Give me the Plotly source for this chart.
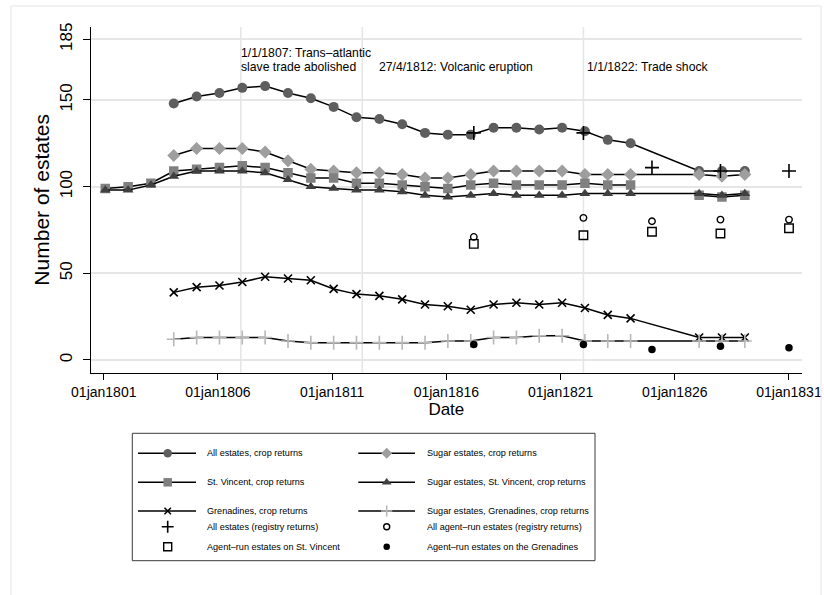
import plotly.graph_objects as go

# ---- data -------------------------------------------------------------
crop_years = list(range(1801, 1830))
crop_dates = [f"{y}-01-25" for y in crop_years]

all_estates = [None, None, None, 148, 152, 154, 157, 158, 154, 151, 146, 140, 139, 136,
               131, 130, 130, 134, 134, 133, 134, 132, 127, 125, None, None, 109, 109, 109]
sugar_estates = [None, None, None, 118, 122, 122, 122, 120, 115, 110, 109, 108, 108, 107,
                 105, 105, 107, 109, 109, 109, 109, 107, 107, 107, None, None, 107, 106, 107]
st_vincent = [99, 100, 102, 109, 110, 111, 112, 111, 108, 105, 105, 102, 102, 101,
              100, 99, 101, 102, 101, 101, 101, 102, 101, 101, None, None, 95, 94, 95]
sugar_st_vincent = [98, 98, 101, 106, 109, 109, 109, 108, 104, 100, 99, 98, 98, 97,
                    95, 94, 95, 96, 95, 95, 95, 96, 96, 96, None, None, 96, 95, 96]
grenadines = [None, None, None, 39, 42, 43, 45, 48, 47, 46, 41, 38, 37, 35,
              32, 31, 29, 32, 33, 32, 33, 30, 26, 24, None, None, 13, 13, 13]
sugar_grenadines = [None, None, None, 12, 13, 13, 13, 13, 11, 10, 10, 10, 10, 10,
                    10, 11, 11, 13, 13, 14, 14, 11, 11, 11, None, None, 11, 11, 11]

registry_dates = ["1817-03-15", "1822-01-01", "1825-01-01", "1828-01-01", "1831-01-01"]
registry_all = [131, 131, 111, 109, 109]
agent_all = [71, 82, 80, 81, 81]
agent_st_vincent = [67, 72, 74, 73, 76]
agent_grenadines = [9, 9, 6, 8, 7]

tick_dates = ["1801-01-01", "1806-01-01", "1811-01-01", "1816-01-01",
              "1821-01-01", "1826-01-01", "1831-01-01"]
tick_labels = ["01jan1801", "01jan1806", "01jan1811", "01jan1816",
               "01jan1821", "01jan1826", "01jan1831"]
y_ticks = [0, 50, 100, 150, 185]

events = [("1807-01-01", ["1/1/1807: Trans\u2013atlantic", "slave trade abolished"]),
          ("1812-04-27", ["27/4/1812: Volcanic eruption"]),
          ("1822-01-01", ["1/1/1822: Trade shock"])]

# ---- page geometry (pixels) -------------------------------------------
W, H = 824, 595
PX_L, PX_R, PX_T, PX_B = 90.7, 802.0, 27.0, 372.7

FONT = "Liberation Sans, Arial, Helvetica, sans-serif"

C_CIRCLE = "#5e5e5e"
C_DIAMOND = "#9e9e9e"
C_SQUARE = "#808080"
C_TRIANGLE = "#404040"
C_PLUS = "#b8b8b8"


def mk(symbol, size, color, edge=0, edge_color=None):
    return dict(symbol=symbol, size=size, color=color,
                line=dict(width=edge, color=edge_color or color))


# (label, values, plot marker, legend marker, joined across gaps)
series = [
    ("All estates, crop returns", all_estates,
     mk("circle", 10, C_CIRCLE), mk("circle", 8.5, C_CIRCLE), True),
    ("Sugar estates, crop returns", sugar_estates,
     mk("diamond", 10, C_DIAMOND), mk("diamond", 8.5, C_DIAMOND), True),
    ("St. Vincent, crop returns", st_vincent,
     mk("square", 9.5, C_SQUARE), mk("square", 8.5, C_SQUARE), False),
    ("Sugar estates, St. Vincent, crop returns", sugar_st_vincent,
     mk("triangle-up", 9.5, C_TRIANGLE), mk("triangle-up", 8.5, C_TRIANGLE), True),
    ("Grenadines, crop returns", grenadines,
     mk("x-thin", 8, "black", 1.6, "black"), mk("x-thin", 6.5, "black", 1.5, "black"), True),
    ("Sugar estates, Grenadines, crop returns", sugar_grenadines,
     mk("cross-thin", 10, C_PLUS, 1.6, C_PLUS), mk("cross-thin", 8, C_PLUS, 1.5, C_PLUS), True),
]

points = [
    ("All estates (registry returns)", registry_all,
     mk("cross-thin", 10, "black", 1.6, "black"), mk("cross-thin", 8.5, "black", 1.6, "black")),
    ("All agent\u2013run estates (registry returns)", agent_all,
     mk("circle-open", 6.5, "black", 1.4, "black"), mk("circle-open", 6, "black", 1.4, "black")),
    ("Agent\u2013run estates on St. Vincent", agent_st_vincent,
     mk("square-open", 8.5, "black", 1.4, "black"), mk("square-open", 8, "black", 1.4, "black")),
    ("Agent\u2013run estates on the Grenadines", agent_grenadines,
     mk("circle", 7.5, "black"), mk("circle", 6.5, "black")),
]

fig = go.Figure()

for name, vals, marker, _, joined in series:
    fig.add_trace(go.Scatter(
        x=crop_dates, y=vals, mode="lines+markers", name=name,
        line=dict(color="black", width=1.5), marker=marker,
        connectgaps=joined, showlegend=False, xaxis="x", yaxis="y"))

for name, vals, marker, _ in points:
    fig.add_trace(go.Scatter(
        x=registry_dates, y=vals, mode="markers", name=name, marker=marker,
        showlegend=False, xaxis="x", yaxis="y"))

# ---- event lines and their notes --------------------------------------
shapes = []
annotations = []
y0_dom, y1_dom = 1 - PX_B / H, 1 - PX_T / H
for date, lines in events:
    shapes.append(dict(type="line", xref="x", yref="paper", x0=date, x1=date,
                       y0=y0_dom, y1=y1_dom, line=dict(color="#e6e6e6", width=1.6),
                       layer="below"))

note_pos = {"1807-01-01": (-2, [177, 169.2]),
            "1812-04-27": (15, [169.2]),
            "1822-01-01": (2, [169.2])}
for date, lines in events:
    shift, ys = note_pos[date]
    for text, yv in zip(lines, ys):
        annotations.append(dict(x=date, y=yv, xref="x", yref="y", text=text,
                                showarrow=False, xanchor="left", yanchor="middle",
                                xshift=shift, font=dict(family=FONT, size=12.2, color="black")))

# ---- legend, drawn in page pixels on a helper axis pair ----------------
LEG = dict(x0=132.3, x1=595.0, y0=433.3, y1=560.7)
shapes.append(dict(type="rect", xref="x2", yref="y2", x0=LEG["x0"], x1=LEG["x1"],
                   y0=LEG["y0"], y1=LEG["y1"], line=dict(color="#3a3a3a", width=1),
                   fillcolor="white", layer="below"))
# outer frame of the graph region
shapes.append(dict(type="rect", xref="x2", yref="y2", x0=11, x1=821, y0=6, y1=600,
                   line=dict(color="#e4e4e4", width=1), layer="below"))

row_y = [453.3, 482.3, 511.0, 526.7, 546.7]
cols = [dict(l0=138, l1=196, m=167.7, t=205), dict(l0=358.3, l1=415, m=386.7, t=425)]
legend_items = [(s[0], s[3], True) for s in series] + [(p[0], p[3], False) for p in points]
for i, (name, marker, has_line) in enumerate(legend_items):
    r, c = divmod(i, 2)
    col = cols[c]
    y = row_y[r]
    if has_line:
        fig.add_trace(go.Scatter(x=[col["l0"], col["l1"]], y=[y, y], mode="lines",
                                 line=dict(color="black", width=1.5), showlegend=False,
                                 hoverinfo="skip", xaxis="x2", yaxis="y2"))
    fig.add_trace(go.Scatter(x=[col["m"]], y=[y], mode="markers", marker=marker,
                             showlegend=False, hoverinfo="skip", xaxis="x2", yaxis="y2"))
    annotations.append(dict(x=col["t"], y=y, xref="x2", yref="y2", text=name,
                            showarrow=False, xanchor="left", yanchor="middle",
                            font=dict(family=FONT, size=9.1, color="black")))

fig.update_layout(
    width=W, height=H, margin=dict(l=0, r=0, t=0, b=0),
    paper_bgcolor="white", plot_bgcolor="rgba(0,0,0,0)",
    showlegend=False,
    shapes=shapes, annotations=annotations,
    xaxis=dict(
        domain=[PX_L / W, PX_R / W], type="date",
        range=["1800-06-06", "1831-07-28"],
        tickmode="array", tickvals=tick_dates, ticktext=tick_labels,
        ticks="outside", ticklen=6, tickwidth=1.3, tickcolor="black",
        showline=True, linecolor="black", linewidth=1.3,
        showgrid=False, zeroline=False, automargin=False,
        tickfont=dict(family=FONT, size=14, color="black"),
        title=dict(text="Date", font=dict(family=FONT, size=17, color="black"), standoff=4),
    ),
    yaxis=dict(
        domain=[1 - PX_B / H, 1 - PX_T / H],
        range=[-7.33, 192.1],
        tickmode="array", tickvals=y_ticks,
        ticks="outside", ticklen=7, tickwidth=1.3, tickcolor="black",
        tickangle=-90, ticklabelstandoff=4,
        showline=True, linecolor="black", linewidth=1.3,
        showgrid=True, gridcolor="#e6e6e6", gridwidth=1.6,
        zeroline=False, automargin=False,
        tickfont=dict(family=FONT, size=17, color="black"),
        title=dict(text="Number of estates", font=dict(family=FONT, size=21, color="black"),
                   standoff=1),
    ),
    xaxis2=dict(domain=[0, 1], range=[0, W], visible=False, fixedrange=True, anchor="y2"),
    yaxis2=dict(domain=[0, 1], range=[H, 0], visible=False, fixedrange=True, anchor="x2"),
)

fig.write_html("out.html")
